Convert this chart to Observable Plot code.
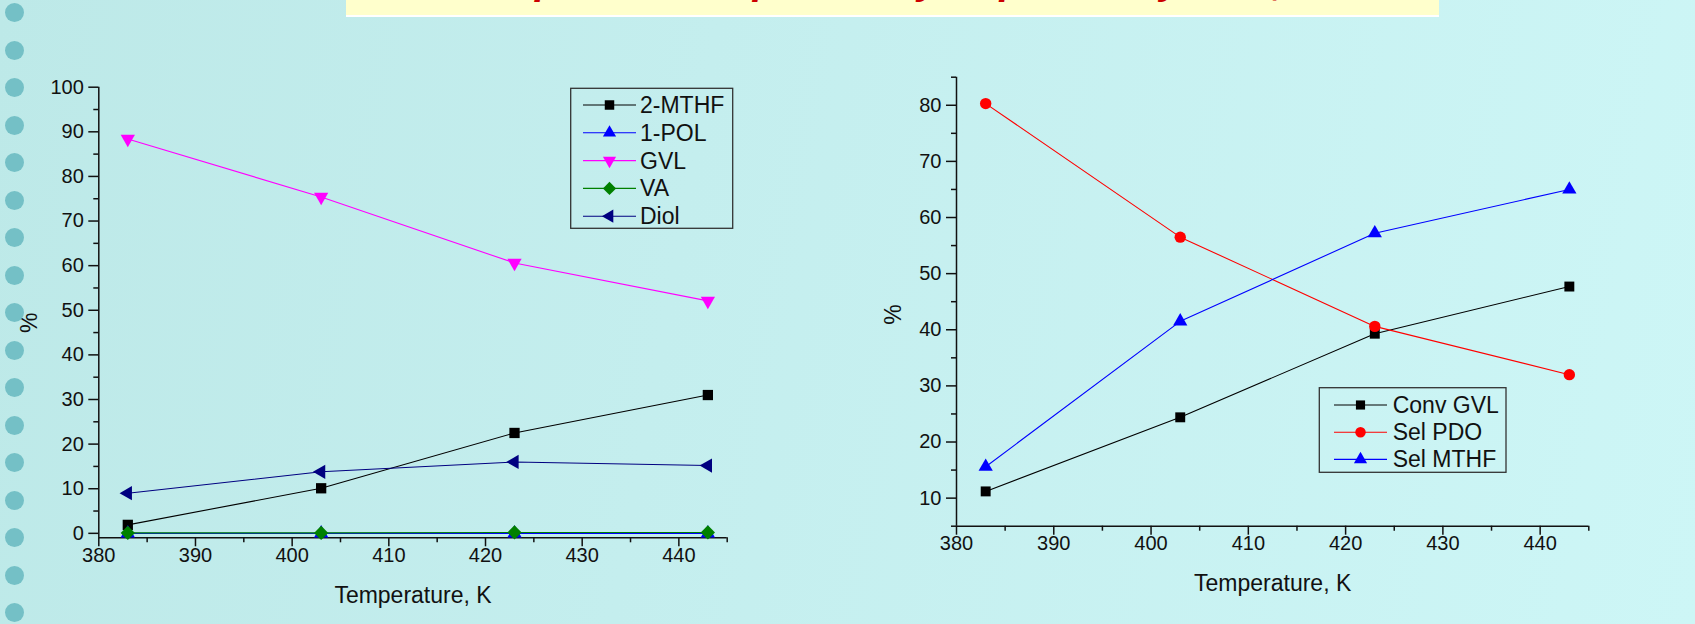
<!DOCTYPE html>
<html><head><meta charset="utf-8">
<script src="https://cdn.jsdelivr.net/npm/d3@7"></script>
<script src="https://cdn.jsdelivr.net/npm/@observablehq/plot@0.6"></script>
<style>
html,body{margin:0;padding:0;}
body{width:1695px;height:624px;overflow:hidden;position:relative;
  background:linear-gradient(100deg,#bde9e8 0%,#c4eeee 40%,#cdf6f6 100%);
  font-family:"Liberation Sans",Arial,sans-serif;}
#title{position:absolute;left:346px;top:0;width:1093px;height:15px;background:#ffffcc;border-bottom:2px solid #fff;overflow:hidden;}
#title span{position:absolute;left:0;right:0;top:-42px;line-height:40px;text-align:center;font:italic bold 40px "Liberation Sans",Arial,sans-serif;color:#cc0000;white-space:nowrap;}
.deco{position:absolute;width:19px;height:19px;border-radius:50%;background:#74c0c6;}
#left,#right{position:absolute;top:0;height:624px;}
#left{left:0;width:760px;}
#right{left:800px;width:895px;}
</style></head><body>
<div id="title"><span>Temperature dependency of product yields, %</span></div>
<div id="left"></div><div id="right"></div>
<script>
// ---------- data ----------
const temps = [383, 403, 423, 443];
const leftNames = ["2-MTHF", "1-POL", "GVL", "VA", "Diol"];
const mthf = [1.9, 10.1, 22.5, 31.0];
const pol = [0, 0, 0, 0];
const gvl = [88.4, 75.4, 60.6, 52.1];
const va = [0.1, 0.1, 0.2, 0.2];
const diol = [9.0, 13.8, 16.0, 15.2];
const rightNames = ["Conv GVL", "Sel PDO", "Sel MTHF"];
const convGVL = [11.2, 24.4, 39.3, 47.7];
const selPDO = [80.3, 56.5, 40.6, 32.0];
const selMTHF = [15.6, 41.5, 57.2, 65.0];
const xMajor = [380, 390, 400, 410, 420, 430, 440];
const xMinor = [385, 395, 405, 415, 425, 435, 445];
const leftYMajor = [0, 10, 20, 30, 40, 50, 60, 70, 80, 90, 100];
const leftYMinor = [5, 15, 25, 35, 45, 55, 65, 75, 85, 95];
const rightYMajor = [10, 20, 30, 40, 50, 60, 70, 80];
const rightYMinor = [5, 15, 25, 35, 45, 55, 65, 75, 85];

// ---------- styles ----------
const leftStyle = [
  {color: "#000000", symbol: "square", r: 5.8, rotate: 0},
  {color: "#0000ff", symbol: "triangle", r: 5.3, rotate: 0},
  {color: "#ff00ff", symbol: "triangle", r: 5.3, rotate: 180},
  {color: "#008000", symbol: "square", r: 5.7, rotate: 45},
  {color: "#000080", symbol: "triangle", r: 5.3, rotate: -90}
];
const rightStyle = [
  {color: "#000000", symbol: "square", r: 5.6, rotate: 0},
  {color: "#ff0000", symbol: "circle", r: 5.7, rotate: 0},
  {color: "#0000ff", symbol: "triangle", r: 5.3, rotate: 0}
];
const symMap = {square: d3.symbolSquare, triangle: d3.symbolTriangle, circle: d3.symbolCircle};

// decoration circles on the left edge
for (let k = 0; k < 17; k++) {
  const d = document.createElement("div");
  d.className = "deco";
  d.style.left = "5px";
  d.style.top = (3.2 + 37.5 * k) + "px";
  document.body.appendChild(d);
}

function rowsOf(values) {
  return temps.map((t, j) => ({temp: t, value: values[j]}));
}

function seriesMarks(valuesList, styles) {
  const marks = [];
  valuesList.forEach((vals, i) => {
    const s = styles[i];
    const data = rowsOf(vals);
    marks.push(Plot.line(data, {x: "temp", y: "value", stroke: s.color, strokeWidth: 1.1}));
    marks.push(Plot.dot(data, {x: "temp", y: "value", symbol: s.symbol, r: s.r, rotate: s.rotate, fill: s.color, stroke: "none"}));
  });
  return marks;
}

function axisMarks(yDomain, yMajor, yMinor, xTitleDy, pctX, pctY) {
  const tickFont = 20;
  return [
    Plot.ruleX([380], {y1: yDomain[0], y2: yDomain[1], stroke: "#111", strokeWidth: 1.5}),
    Plot.ruleY([yDomain[0]], {x1: 380, x2: 445, stroke: "#111", strokeWidth: 1.5}),
    Plot.axisX({ticks: xMajor, tickSize: 9, tickPadding: 1, strokeWidth: 1.5, fontSize: tickFont, label: null, stroke: "#111"}),
    Plot.axisX({ticks: xMinor, tickSize: 5, tickFormat: () => "", strokeWidth: 1.5, label: null, stroke: "#111"}),
    Plot.axisY({ticks: yMajor, tickSize: 10, tickPadding: 5, strokeWidth: 1.5, fontSize: tickFont, label: null, stroke: "#111"}),
    Plot.axisY({ticks: yMinor, tickSize: 5, tickFormat: () => "", strokeWidth: 1.5, label: null, stroke: "#111"}),
    Plot.text(["Temperature, K"], {frameAnchor: "bottom", dy: xTitleDy, lineAnchor: "middle", fontSize: 23, fill: "#111"}),
    Plot.text(["%"], {x: () => pctX, y: () => pctY, rotate: -90, fontSize: 23, fill: "#111"})
  ];
}

function addLegend(svg, names, styles, L) {
  const g = d3.select(svg).append("g");
  g.append("rect").attr("x", L.x).attr("y", L.y).attr("width", L.w).attr("height", L.h)
    .attr("fill", "none").attr("stroke", "#333").attr("stroke-width", 1.3);
  names.forEach((name, i) => {
    const s = styles[i];
    const y = L.y0 + i * L.dy;
    g.append("line").attr("x1", L.lx1).attr("x2", L.lx2).attr("y1", y).attr("y2", y)
      .attr("stroke", s.color).attr("stroke-width", 1.1);
    g.append("path").attr("d", d3.symbol().type(symMap[s.symbol]).size(Math.PI * s.r * s.r * 0.85)())
      .attr("transform", `translate(${(L.lx1 + L.lx2) / 2},${y}) rotate(${s.rotate})`)
      .attr("fill", s.color);
    g.append("text").attr("x", L.tx).attr("y", y).attr("dy", "0.35em")
      .attr("text-anchor", "start")
      .attr("font-size", 23).attr("fill", "#111").text(name);
  });
}

const commonStyle = {background: "transparent", fontFamily: "'Liberation Sans', Arial, sans-serif", fontSize: "20px", color: "#111", overflow: "visible"};

// ---------- left chart ----------
const left = Plot.plot({
  width: 760, height: 624,
  marginLeft: 98.3, marginRight: 33.3, marginTop: 86.7, marginBottom: 86.7,
  x: {domain: [380, 445]},
  y: {domain: [-1, 100]},
  style: commonStyle,
  marks: [
    ...axisMarks([-1, 100], leftYMajor, leftYMinor, 58, 372.8, 47.2),
    ...seriesMarks([mthf, pol, gvl, va, diol], leftStyle)
  ]
});
document.getElementById("left").appendChild(left);
addLegend(left, leftNames, leftStyle, {x: 570.7, y: 88.3, w: 162, h: 140, y0: 105, dy: 27.8, lx1: 583, lx2: 636, tx: 640});

// ---------- right chart ----------
const right = Plot.plot({
  width: 895, height: 624,
  marginLeft: 156, marginRight: 106.7, marginTop: 76.7, marginBottom: 98.3,
  x: {domain: [380, 445]},
  y: {domain: [5, 85]},
  style: commonStyle,
  marks: [
    ...axisMarks([5, 85], rightYMajor, rightYMinor, 57, 373.5, 42.7),
    ...seriesMarks([convGVL, selPDO, selMTHF], rightStyle)
  ]
});
document.getElementById("right").appendChild(right);
addLegend(right, rightNames, rightStyle, {x: 519.3, y: 387.7, w: 186.7, h: 84.6, y0: 405, dy: 27.2, lx1: 534, lx2: 587, tx: 592.7});
</script>
</body></html>
